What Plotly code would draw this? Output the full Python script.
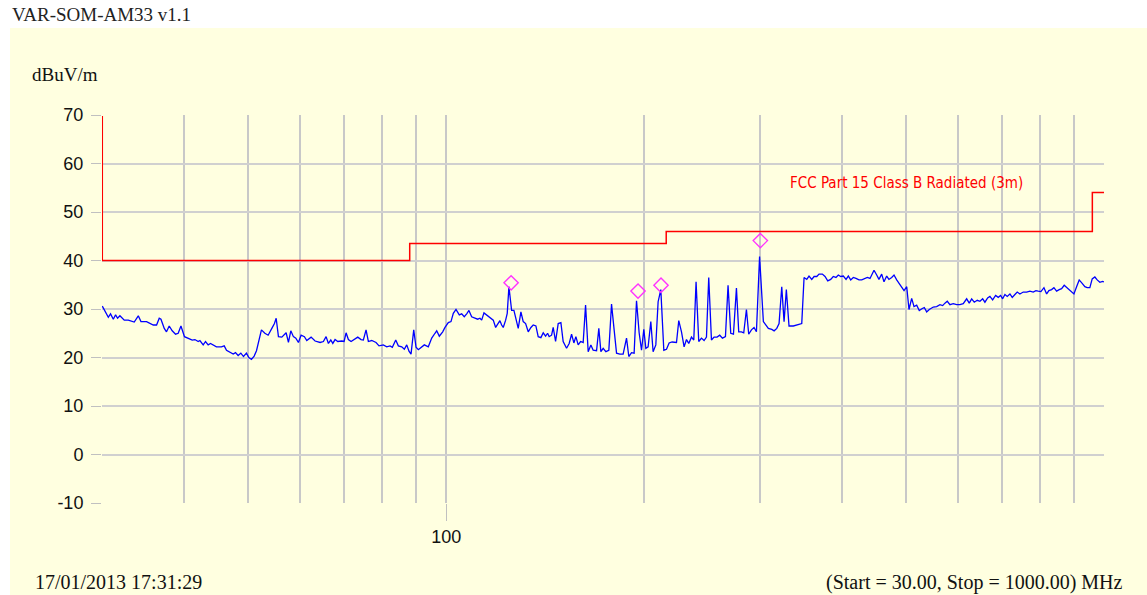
import math
import plotly.graph_objects as go

# ---------------- data ----------------
freq_mhz = [
    30.0, 30.64, 30.88, 31.18, 31.43, 31.65, 31.91, 32.10, 32.40, 32.86, 33.24, 33.55, 34.03, 34.35,
    35.03, 35.45, 35.86, 36.28, 36.62, 36.84, 37.27, 37.56, 37.92, 38.32, 38.77, 39.13, 39.51, 40.0,
    40.53, 41.10, 41.49, 41.97, 42.22, 42.71, 43.06, 43.46, 43.82, 44.23, 44.74, 45.53, 45.97, 46.34,
    46.89, 47.44, 47.82, 48.27, 48.73, 49.18, 49.69, 50.11, 50.57, 51.05, 51.47, 51.90, 52.37, 53.00,
    53.61,
    54.31, 54.81, 55.14, 55.58, 56.24, 56.70, 57.10, 57.56, 58.04, 58.57, 59.07, 59.61, 60.17, 60.87,
    61.38, 62.31, 63.19, 64.31, 65.05, 65.67, 66.20, 66.76, 67.23, 67.77, 68.41, 69.38, 69.94, 70.43,
    71.00, 71.67, 72.51, 73.37, 74.22, 74.82, 75.53, 76.14, 77.05, 78.22, 79.04, 80.24, 81.20, 82.14,
    82.81, 83.80, 84.57, 85.58, 86.36, 87.09, 87.78, 88.41, 89.25, 89.97, 90.70, 91.55, 92.62, 93.92,
    95.05, 96.14,
    96.72, 97.61, 98.77, 99.57, 100.73, 101.68, 102.51, 103.48, 104.68, 105.56, 106.52, 107.42, 108.28,
    109.31, 110.58, 111.63, 112.53, 113.21, 114.13, 115.21, 116.54, 117.90, 118.89, 119.72, 120.68,
    121.41, 122.09, 123.12, 123.81, 124.54, 125.73, 126.74, 127.63, 128.67, 129.88, 130.93, 132.04,
    133.25, 134.51, 135.60, 136.88, 137.99, 139.30, 140.43, 141.61, 142.60, 143.38, 144.61, 145.42,
    146.64, 147.99, 149.39, 150.59, 152.39, 153.79, 155.09, 156.34, 157.44, 158.71, 160.05, 161.51,
    162.87, 164.37, 165.92, 167.26,
    169.26, 170.61, 171.83, 173.22, 174.86, 176.69, 178.37, 180.00, 181.52, 183.61, 185.76, 187.98,
    189.49, 191.30, 193.05, 194.67, 196.46, 198.11, 199.71, 201.12, 202.74, 204.66, 206.32, 208.28,
    209.96, 211.95, 214.19, 216.21, 218.20, 220.49, 223.91, 225.70, 227.86, 229.95, 231.88, 233.73,
    235.97, 237.88, 239.79, 242.05, 244.37, 246.61, 248.68, 250.67, 253.06, 255.38, 258.07, 260.50,
    262.99, 265.77, 268.20, 270.74, 273.31, 276.19, 278.40, 281.06, 283.34, 286.02, 288.31, 291.07,
    293.74, 296.21, 299.50,
    303.48, 308.84, 312.57, 315.12, 318.09, 320.63, 323.66, 326.29, 328.90, 332.00, 337.03, 341.77,
    347.14, 349.97, 353.27, 356.08, 359.52, 362.46, 365.87, 368.79, 373.09, 376.61, 380.19, 384.15,
    387.66, 391.34, 394.51, 397.89, 401.52, 405.34, 408.61, 412.02, 415.79, 419.74, 424.12, 428.25,
    432.17, 436.72, 440.83, 447.05, 451.27, 454.86, 459.22, 462.96, 467.33, 471.05, 475.60, 479.48,
    484.00, 488.43, 492.58, 496.60, 501.29, 505.28, 510.06, 514.23, 519.08, 523.82, 529.36, 533.08,
    537.58, 542.50,
    550.10, 556.69, 563.10, 568.49, 573.05, 577.71, 583.15, 589.98, 597.05, 603.92, 610.97, 618.30,
    623.95, 629.24, 634.99, 641.68, 647.73, 653.90, 659.15, 665.41, 670.76, 677.15, 684.30, 690.56,
    696.42, 701.31, 706.95, 712.68, 719.40, 725.26, 732.11, 738.05, 745.00, 753.72, 762.75, 771.53,
    780.54, 787.96, 794.33, 801.88, 810.41, 818.06, 824.58, 832.43, 839.22, 847.13, 854.88, 862.09,
    869.98, 877.33, 885.35, 892.76, 900.05, 908.54, 916.85, 926.47, 935.22, 942.81, 951.69, 959.51,
    968.56, 976.42, 985.63, 995.03, 1000.0,
]

level_dbuv = [
    30.6, 28.3, 29.0, 27.9, 28.8, 28.1, 28.6, 28.2, 27.7, 27.7, 27.4, 27.3, 28.6, 27.4,
    27.4, 27.0, 26.7, 26.7, 28.1, 27.9, 26.0, 25.3, 26.5, 25.5, 24.8, 25.0, 26.5, 24.3,
    24.0, 23.6, 23.7, 23.3, 23.5, 22.6, 23.3, 22.6, 22.9, 22.6, 22.2, 22.2, 22.4, 21.5,
    21.1, 20.7, 21.0, 20.4, 20.9, 20.2, 20.9, 20.0, 19.6, 20.3, 21.4, 23.6, 25.7, 25.0,
    24.6,
    26.0, 27.0, 28.1, 24.3, 24.2, 24.6, 25.1, 23.1, 25.5, 24.3, 24.0, 23.1, 24.6, 24.3,
    23.5, 24.2, 23.4, 23.1, 23.3, 24.3, 22.9, 23.6, 22.9, 23.7, 23.3, 23.4, 23.3, 25.1,
    23.7, 23.3, 23.7, 24.2, 23.7, 23.6, 25.7, 23.3, 23.5, 23.1, 22.4, 22.6, 22.2, 22.4,
    22.1, 23.6, 22.4, 22.2, 21.7, 22.6, 21.3, 20.7, 25.7, 22.1, 21.6, 22.1, 22.6, 22.2,
    24.0, 25.0,
    25.5, 24.4, 25.3, 26.2, 27.2, 27.4, 29.1, 29.9, 28.8, 29.0, 28.4, 29.0, 29.7,
    28.4, 28.1, 27.9, 28.1, 27.7, 29.2, 28.8, 28.3, 27.7, 26.2, 27.0, 27.6,
    26.7, 26.2, 27.7, 29.1, 34.6, 29.7, 29.7, 27.7, 26.0, 29.4, 27.4, 27.0,
    25.3, 26.2, 26.7, 26.5, 24.3, 24.1, 25.1, 24.4, 25.0, 24.3, 24.6, 26.2,
    23.3, 27.0, 27.2, 23.3, 21.9, 22.9, 24.8, 23.0, 24.3, 22.6, 23.3, 23.1,
    30.8, 21.2, 22.6, 21.5,
    21.4, 26.0, 21.2, 21.9, 21.2, 21.5, 31.0, 25.7, 20.9, 20.7, 20.7, 24.0,
    20.2, 21.0, 20.9, 31.7, 25.1, 21.5, 25.8, 21.9, 22.2, 27.4, 21.2, 22.6,
    31.5, 34.0, 21.5, 21.7, 23.0, 23.2, 23.1, 27.6, 25.3, 22.2, 23.7, 22.9,
    24.2, 23.6, 35.6, 23.3, 24.0, 23.5, 24.2, 36.5, 23.6, 24.2, 24.2, 24.6,
    24.0, 24.3, 34.9, 25.0, 24.8, 34.3, 25.3, 25.3, 25.1, 29.9, 24.8, 25.7,
    26.2, 25.3, 40.8,
    27.4, 26.0, 25.8, 25.5, 26.0, 27.0, 34.6, 27.4, 34.0, 26.5, 26.5, 26.7,
    27.0, 36.5, 36.1, 36.8, 36.1, 36.7, 36.7, 37.2, 37.2, 36.7, 35.8, 36.1,
    36.7, 36.5, 37.0, 36.7, 36.8, 36.1, 36.8, 36.0, 36.5, 36.3, 36.0, 36.0,
    36.3, 36.5, 36.3, 38.0, 37.0, 36.1, 37.2, 35.6, 36.8, 36.1, 36.5, 37.0,
    36.0, 35.3, 34.6, 33.8, 34.6, 29.9, 32.2, 30.5, 30.8, 29.7, 30.1, 30.3,
    29.4, 29.9,
    30.4, 30.5, 30.9, 30.7, 31.2, 31.6, 30.9, 31.1, 30.9, 30.9, 31.1, 32.1,
    31.2, 32.1, 31.4, 31.8, 31.6, 32.1, 31.4, 32.3, 32.6, 31.9, 32.8, 32.4,
    32.8, 32.1, 33.0, 32.6, 33.1, 32.4, 33.0, 33.5, 33.1, 33.5, 33.5, 33.7,
    33.5, 33.8, 33.7, 33.6, 34.4, 33.1, 33.8, 34.0, 34.4, 33.7, 34.0, 34.2,
    34.9, 34.4, 34.0, 33.5, 33.1, 34.6, 36.0, 35.3, 34.6, 34.4, 34.4, 36.2,
    36.6, 36.0, 35.5, 35.7, 35.6,
]

limit_freq = [30, 30, 88, 88, 216, 216, 960, 960, 1000]
limit_level = [69.8, 40, 40, 43.5, 43.5, 46, 46, 54, 54]

peak_freq = [125.5, 195.7, 212.1, 300.3]
peak_level = [35.4, 33.7, 34.9, 44.1]

grid_freqs = [30, 40, 50, 60, 70, 80, 90, 100, 200, 300, 400, 500, 600, 700, 800, 900, 1000]
x_tick_vals = [100]
x_tick_text = ["100"]
y_tick_vals = [-10, 0, 10, 20, 30, 40, 50, 60, 70]
y_tick_text = ["-10", "0", "10", "20", "30", "40", "50", "60", "70"]

title_text = "VAR-SOM-AM33 v1.1"
unit_text = "dBuV/m"
date_text = "17/01/2013 17:31:29"
range_text = "(Start = 30.00, Stop = 1000.00) MHz"
limit_name = "FCC Part 15 Class B Radiated (3m)"

# ---------------- figure ----------------
W, H = 1147, 595
ML, MR, MT, MB = 102, 43, 115, 92
PW, PH = W - ML - MR, H - MT - MB

def px_x(px):
    return (px - ML) / PW

def px_y(py):
    return (H - MB - py) / PH

BG = "#FFFFE0"
GRID = "#C8C8C8"
SERIF = "Liberation Serif, Times New Roman, serif"
SANS = "Liberation Sans, Arial, sans-serif"

fig = go.Figure()
fig.add_trace(go.Scatter(x=limit_freq, y=limit_level, mode="lines",
                         line=dict(color="#FF0000", width=1.5), hoverinfo="skip"))
fig.add_trace(go.Scatter(x=freq_mhz, y=level_dbuv, mode="lines",
                         line=dict(color="#0000FF", width=1.3)))
fig.add_trace(go.Scatter(x=peak_freq, y=peak_level, mode="markers",
                         marker=dict(symbol="diamond-open", size=11, color="#FF33FF",
                                     line=dict(width=1.4, color="#FF33FF"))))

fig.update_layout(
    width=W, height=H,
    margin=dict(l=ML, r=MR, t=MT, b=MB, pad=0),
    paper_bgcolor=BG, plot_bgcolor=BG,
    showlegend=False,
    xaxis=dict(type="log", range=[math.log10(29.97), math.log10(1000)],
               tickmode="array", tickvals=x_tick_vals, ticktext=x_tick_text,
               ticks="outside", ticklen=17, tickcolor="#C0C0C0", tickwidth=1,
               showgrid=True, gridcolor=GRID, gridwidth=1.5, zeroline=False,
               showline=False,
               tickfont=dict(family=SANS, size=18, color="#111111"),
               minor=dict(tickmode="array", tickvals=grid_freqs, showgrid=True,
                          gridcolor=GRID, gridwidth=1.5, ticks="")),
    yaxis=dict(range=[-10, 70], tickmode="array", tickvals=y_tick_vals, ticktext=y_tick_text,
               ticks="outside", ticklen=10, tickcolor="#C0C0C0", tickwidth=1,
               showgrid=True, gridcolor="#D0D0D0", gridwidth=1.5, zeroline=False,
               showline=False, ticklabelstandoff=4,
               tickfont=dict(family=SANS, size=18, color="#111111")),
    shapes=[
        dict(type="rect", xref="paper", yref="paper", x0=-0.2, x1=1.2,
             y0=px_y(28), y1=1.4, fillcolor="white", line=dict(width=0), layer="below"),
        dict(type="rect", xref="paper", yref="paper", x0=-0.2, x1=px_x(10),
             y0=-0.4, y1=1.4, fillcolor="white", line=dict(width=0), layer="below"),
    ],
    annotations=[
        dict(text=title_text, xref="paper", yref="paper", x=px_x(10), y=px_y(14),
             xanchor="left", yanchor="middle", showarrow=False,
             font=dict(family=SERIF, size=19, color="#222222")),
        dict(text=unit_text, xref="paper", yref="paper", x=px_x(30), y=px_y(75),
             xanchor="left", yanchor="middle", showarrow=False,
             font=dict(family=SERIF, size=19, color="#111111")),
        dict(text=date_text, xref="paper", yref="paper", x=px_x(33), y=px_y(582),
             xanchor="left", yanchor="middle", showarrow=False,
             font=dict(family=SERIF, size=20, color="#111111")),
        dict(text=range_text, xref="paper", yref="paper", x=px_x(1125), y=px_y(582),
             xanchor="right", yanchor="middle", showarrow=False,
             font=dict(family=SERIF, size=20, color="#111111")),
        dict(text=limit_name, xref="paper", yref="paper", x=px_x(788), y=px_y(183),
             xanchor="left", yanchor="middle", showarrow=False,
             font=dict(family="Liberation Sans Narrow, DejaVu Sans Condensed, Arial Narrow, sans-serif",
                       size=15, color="#FF0000")),
    ],
)

fig.write_html("out.html", config={"displayModeBar": False},
               post_script="document.body.style.margin='0px';document.body.style.overflow='hidden';")
